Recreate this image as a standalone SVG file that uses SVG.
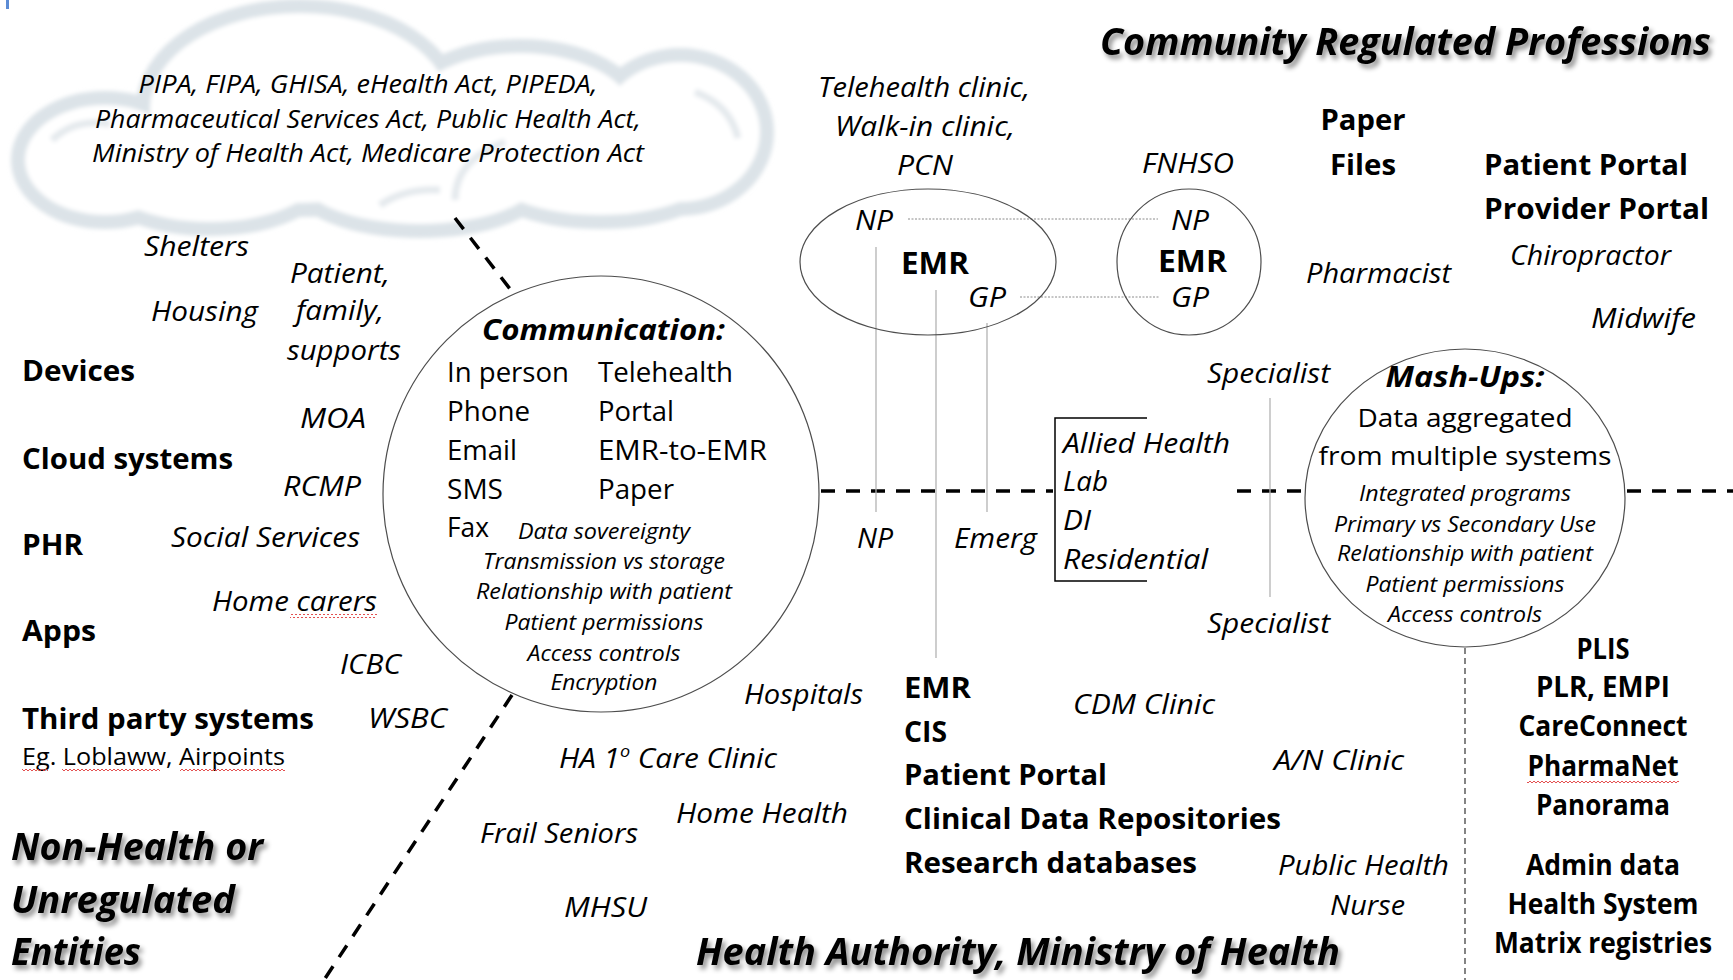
<svg xmlns="http://www.w3.org/2000/svg" width="1733" height="980" viewBox="0 0 1733 980">
<defs>
<style>
text{font-family:'Open Sans','Noto Sans','DejaVu Sans',sans-serif;fill:#000}
.i{font-style:italic}
.b{font-weight:700}
.m{text-anchor:middle}
.f20{font-size:20px}
.f21{font-size:21px}
.f24{font-size:24px}
.f25{font-size:25px}
.f27{font-size:27px}
.f28{font-size:28px}
.f29{font-size:29px}
.f31{font-size:31px}
.hd{font-size:38px;font-weight:700;font-style:italic}
.thin{stroke:#b3b3b3;stroke-width:1.3;fill:none}
.dot{stroke:#8c8c8c;stroke-width:1;stroke-dasharray:2 1.5;fill:none}
.bound{stroke:#000;stroke-width:3.5;stroke-dasharray:14 11;fill:none}
.fine{stroke:#333;stroke-width:1.2;stroke-dasharray:6 4;fill:none}
.outline{fill:none;stroke:#4d4d4d;stroke-width:1.2}
</style>
<filter id="shadow" x="-5%" y="-30%" width="115%" height="180%">
<feDropShadow dx="3" dy="4" stdDeviation="2.5" flood-color="#000" flood-opacity="0.45"/>
</filter>
<filter id="soft" x="-5%" y="-10%" width="110%" height="120%">
<feGaussianBlur stdDeviation="2"/>
</filter>
<pattern id="squiggle" width="4" height="4" patternUnits="userSpaceOnUse">
<path d="M0,3 L2,1 L4,3" fill="none" stroke="#e03c3c" stroke-width="0.9"/>
</pattern>
<g id="lobes">
<ellipse cx="105" cy="160" rx="80" ry="55"/>
<ellipse cx="300" cy="108" rx="150" ry="95"/>
<ellipse cx="520" cy="118" rx="115" ry="65"/>
<ellipse cx="680" cy="132" rx="80" ry="70"/>
<ellipse cx="210" cy="172" rx="110" ry="50"/>
<ellipse cx="420" cy="176" rx="120" ry="48"/>
<ellipse cx="600" cy="172" rx="110" ry="43"/>
</g>
</defs>

<rect width="1733" height="980" fill="#fff"/>
<rect x="6" y="0" width="3" height="9" fill="#5b8bd5"/>

<!-- legislation cloud -->
<g id="cloud">
<g filter="url(#soft)">
<use href="#lobes" fill="none" stroke="#dce3e8" stroke-width="28"/>
<use href="#lobes" fill="#fff" stroke="none"/>
<g fill="none" stroke="#e4e9ed" stroke-width="7">
<path d="M52,140 Q75,118 110,124"/>
<path d="M455,200 Q455,160 505,142"/>
<path d="M695,92 Q730,105 738,138"/>
<path d="M380,205 Q405,188 440,190"/>
</g>
</g>
<text class="i f25 m" x="368" y="93" textLength="459" lengthAdjust="spacingAndGlyphs">PIPA, FIPA, GHISA, eHealth Act, PIPEDA,</text>
<text class="i f25 m" x="368" y="128" textLength="546" lengthAdjust="spacingAndGlyphs">Pharmaceutical Services Act, Public Health Act,</text>
<text class="i f25 m" x="368" y="162" textLength="552" lengthAdjust="spacingAndGlyphs">Ministry of Health Act, Medicare Protection Act</text>
</g>

<!-- connectors and boundaries -->
<g id="connectors">
<line class="bound" x1="455" y1="218" x2="514" y2="294"/>
<line class="bound" x1="512" y1="695" x2="324" y2="980"/>
<line class="bound" x1="821" y1="491" x2="1053" y2="491"/>
<line class="bound" x1="1237" y1="491" x2="1304" y2="491"/>
<line class="bound" x1="1627" y1="491" x2="1733" y2="491"/>
<line class="fine" x1="1465" y1="648" x2="1465" y2="980"/>
<line class="thin" x1="876" y1="247" x2="876" y2="512"/>
<line class="thin" x1="936" y1="290" x2="936" y2="658"/>
<line class="thin" x1="987" y1="323" x2="987" y2="512"/>
<line class="thin" x1="1270" y1="398" x2="1270" y2="597"/>
<line class="dot" x1="908" y1="219" x2="1158" y2="219"/>
<line class="dot" x1="1020" y1="297" x2="1160" y2="297"/>
<path d="M1147,418 H1055 V581 H1147" fill="none" stroke="#000" stroke-width="1.5"/>
</g>

<!-- section headings -->
<g id="headings">
<text class="hd" x="1100" y="55" textLength="611" lengthAdjust="spacingAndGlyphs" filter="url(#shadow)">Community Regulated Professions</text>
<text class="hd" x="696" y="965" textLength="644" lengthAdjust="spacingAndGlyphs" filter="url(#shadow)">Health Authority, Ministry of Health</text>
<text class="hd" x="11" y="860" textLength="252" lengthAdjust="spacingAndGlyphs" filter="url(#shadow)">Non-Health or</text>
<text class="hd" x="11" y="913" textLength="224" lengthAdjust="spacingAndGlyphs" filter="url(#shadow)">Unregulated</text>
<text class="hd" x="11" y="965" textLength="130" lengthAdjust="spacingAndGlyphs" filter="url(#shadow)">Entities</text>
</g>

<!-- non-health / unregulated systems -->
<g id="systems-left">
<text class="b f29" x="22" y="381" textLength="113" lengthAdjust="spacingAndGlyphs">Devices</text>
<text class="b f29" x="22" y="469" textLength="211" lengthAdjust="spacingAndGlyphs">Cloud systems</text>
<text class="b f29" x="22" y="555" textLength="61" lengthAdjust="spacingAndGlyphs">PHR</text>
<text class="b f29" x="22" y="641" textLength="74" lengthAdjust="spacingAndGlyphs">Apps</text>
<text class="b f29" x="22" y="729" textLength="292" lengthAdjust="spacingAndGlyphs">Third party systems</text>
<text class="f24" x="22" y="765" textLength="263" lengthAdjust="spacingAndGlyphs">Eg. Loblaww, Airpoints</text>
<rect x="22" y="768" width="26" height="4" fill="url(#squiggle)"/>
<rect x="62" y="768" width="98" height="4" fill="url(#squiggle)"/>
<rect x="180" y="768" width="105" height="4" fill="url(#squiggle)"/>
</g>

<g id="actors-left">
<text class="i f27" x="144" y="256" textLength="105" lengthAdjust="spacingAndGlyphs">Shelters</text>
<text class="i f27" x="151" y="321" textLength="107" lengthAdjust="spacingAndGlyphs">Housing</text>
<text class="i f27" x="290" y="283" textLength="100" lengthAdjust="spacingAndGlyphs">Patient,</text>
<text class="i f27" x="296" y="320" textLength="88" lengthAdjust="spacingAndGlyphs">family,</text>
<text class="i f27" x="287" y="360" textLength="114" lengthAdjust="spacingAndGlyphs">supports</text>
<text class="i f27" x="300" y="428" textLength="66" lengthAdjust="spacingAndGlyphs">MOA</text>
<text class="i f27" x="283" y="496" textLength="78" lengthAdjust="spacingAndGlyphs">RCMP</text>
<text class="i f27" x="171" y="547" textLength="189" lengthAdjust="spacingAndGlyphs">Social Services</text>
<text class="i f27" x="212" y="611" textLength="165" lengthAdjust="spacingAndGlyphs">Home carers</text>
<rect x="290" y="614" width="87" height="4" fill="url(#squiggle)"/>
<text class="i f27" x="340" y="674" textLength="61" lengthAdjust="spacingAndGlyphs">ICBC</text>
<text class="i f28" x="368" y="728" textLength="79" lengthAdjust="spacingAndGlyphs">WSBC</text>
</g>

<!-- communication channels -->
<g id="communication">
<circle class="outline" cx="601" cy="494" r="218"/>
<text class="b i f29" x="482" y="340" textLength="243" lengthAdjust="spacingAndGlyphs">Communication:</text>
<text class="f27" x="447" y="382" textLength="122" lengthAdjust="spacingAndGlyphs">In person</text>
<text class="f27" x="598" y="382" textLength="135" lengthAdjust="spacingAndGlyphs">Telehealth</text>
<text class="f27" x="447" y="421" textLength="83" lengthAdjust="spacingAndGlyphs">Phone</text>
<text class="f27" x="598" y="421" textLength="76" lengthAdjust="spacingAndGlyphs">Portal</text>
<text class="f27" x="447" y="460" textLength="70" lengthAdjust="spacingAndGlyphs">Email</text>
<text class="f27" x="598" y="460" textLength="169" lengthAdjust="spacingAndGlyphs">EMR-to-EMR</text>
<text class="f27" x="447" y="499" textLength="56" lengthAdjust="spacingAndGlyphs">SMS</text>
<text class="f27" x="598" y="499" textLength="76" lengthAdjust="spacingAndGlyphs">Paper</text>
<text class="f27" x="447" y="537" textLength="42" lengthAdjust="spacingAndGlyphs">Fax</text>
<text class="i f21" x="518" y="539" textLength="172" lengthAdjust="spacingAndGlyphs">Data sovereignty</text>
<text class="i f21 m" x="604" y="569" textLength="242" lengthAdjust="spacingAndGlyphs">Transmission vs storage</text>
<text class="i f21 m" x="604" y="599" textLength="256" lengthAdjust="spacingAndGlyphs">Relationship with patient</text>
<text class="i f21 m" x="604" y="630" textLength="199" lengthAdjust="spacingAndGlyphs">Patient permissions</text>
<text class="i f21 m" x="604" y="661" textLength="153" lengthAdjust="spacingAndGlyphs">Access controls</text>
<text class="i f21 m" x="604" y="690" textLength="107" lengthAdjust="spacingAndGlyphs">Encryption</text>
</g>

<!-- primary care clinics -->
<g id="pcn">
<text class="i f27 m" x="924" y="97" textLength="212" lengthAdjust="spacingAndGlyphs">Telehealth clinic,</text>
<text class="i f27 m" x="925" y="136" textLength="180" lengthAdjust="spacingAndGlyphs">Walk-in clinic,</text>
<text class="i f27 m" x="925" y="175" textLength="56" lengthAdjust="spacingAndGlyphs">PCN</text>
<ellipse class="outline" cx="928" cy="262" rx="128" ry="73"/>
<text class="i f27" x="855" y="230" textLength="38" lengthAdjust="spacingAndGlyphs">NP</text>
<text class="b f31" x="901" y="274" textLength="68" lengthAdjust="spacingAndGlyphs">EMR</text>
<text class="i f27" x="968" y="307" textLength="38" lengthAdjust="spacingAndGlyphs">GP</text>
</g>

<g id="fnhso">
<text class="i f27 m" x="1188" y="173" textLength="92" lengthAdjust="spacingAndGlyphs">FNHSO</text>
<ellipse class="outline" cx="1189" cy="262" rx="72" ry="73"/>
<text class="i f27" x="1171" y="230" textLength="38" lengthAdjust="spacingAndGlyphs">NP</text>
<text class="b f31" x="1158" y="272" textLength="69" lengthAdjust="spacingAndGlyphs">EMR</text>
<text class="i f27" x="1171" y="307" textLength="38" lengthAdjust="spacingAndGlyphs">GP</text>
</g>

<g id="acute">
<text class="i f27" x="857" y="548" textLength="36" lengthAdjust="spacingAndGlyphs">NP</text>
<text class="i f27" x="954" y="548" textLength="83" lengthAdjust="spacingAndGlyphs">Emerg</text>
</g>

<g id="allied">
<text class="i f28" x="1063" y="453" textLength="167" lengthAdjust="spacingAndGlyphs">Allied Health</text>
<text class="i f28" x="1063" y="491" textLength="45" lengthAdjust="spacingAndGlyphs">Lab</text>
<text class="i f28" x="1063" y="530" textLength="28" lengthAdjust="spacingAndGlyphs">DI</text>
<text class="i f28" x="1063" y="569" textLength="145" lengthAdjust="spacingAndGlyphs">Residential</text>
</g>

<!-- community regulated professions -->
<g id="community">
<text class="b f29 m" x="1363" y="130" textLength="85" lengthAdjust="spacingAndGlyphs">Paper</text>
<text class="b f29 m" x="1363" y="175" textLength="66" lengthAdjust="spacingAndGlyphs">Files</text>
<text class="b f29" x="1484" y="175" textLength="204" lengthAdjust="spacingAndGlyphs">Patient Portal</text>
<text class="b f29" x="1484" y="219" textLength="225" lengthAdjust="spacingAndGlyphs">Provider Portal</text>
<text class="i f27" x="1306" y="283" textLength="145" lengthAdjust="spacingAndGlyphs">Pharmacist</text>
<text class="i f27" x="1510" y="265" textLength="161" lengthAdjust="spacingAndGlyphs">Chiropractor</text>
<text class="i f27" x="1591" y="328" textLength="105" lengthAdjust="spacingAndGlyphs">Midwife</text>
<text class="i f27" x="1207" y="383" textLength="123" lengthAdjust="spacingAndGlyphs">Specialist</text>
<text class="i f27" x="1207" y="633" textLength="123" lengthAdjust="spacingAndGlyphs">Specialist</text>
</g>

<!-- aggregated data -->
<g id="mashups">
<ellipse class="outline" cx="1465" cy="498" rx="160" ry="149"/>
<text class="b i f29 m" x="1465" y="387" textLength="159" lengthAdjust="spacingAndGlyphs">Mash-Ups:</text>
<text class="f25 m" x="1465" y="427" textLength="215" lengthAdjust="spacingAndGlyphs">Data aggregated</text>
<text class="f25 m" x="1465" y="465" textLength="293" lengthAdjust="spacingAndGlyphs">from multiple systems</text>
<text class="i f21 m" x="1465" y="501" textLength="212" lengthAdjust="spacingAndGlyphs">Integrated programs</text>
<text class="i f21 m" x="1465" y="532" textLength="262" lengthAdjust="spacingAndGlyphs">Primary vs Secondary Use</text>
<text class="i f21 m" x="1465" y="561" textLength="256" lengthAdjust="spacingAndGlyphs">Relationship with patient</text>
<text class="i f21 m" x="1465" y="592" textLength="199" lengthAdjust="spacingAndGlyphs">Patient permissions</text>
<text class="i f21 m" x="1465" y="622" textLength="154" lengthAdjust="spacingAndGlyphs">Access controls</text>
</g>

<!-- health authority programs -->
<g id="health-authority">
<text class="i f28" x="744" y="704" textLength="119" lengthAdjust="spacingAndGlyphs">Hospitals</text>
<text class="i f28" x="559" y="768" textLength="218" lengthAdjust="spacingAndGlyphs">HA 1<tspan font-size="17" dy="-11">o</tspan><tspan dy="11"> Care Clinic</tspan></text>
<text class="i f28" x="676" y="823" textLength="172" lengthAdjust="spacingAndGlyphs">Home Health</text>
<text class="i f28" x="480" y="843" textLength="158" lengthAdjust="spacingAndGlyphs">Frail Seniors</text>
<text class="i f28" x="564" y="917" textLength="83" lengthAdjust="spacingAndGlyphs">MHSU</text>
<text class="i f28" x="1073" y="714" textLength="142" lengthAdjust="spacingAndGlyphs">CDM Clinic</text>
<text class="i f28" x="1274" y="770" textLength="130" lengthAdjust="spacingAndGlyphs">A/N Clinic</text>
<text class="i f28" x="1278" y="875" textLength="171" lengthAdjust="spacingAndGlyphs">Public Health</text>
<text class="i f28" x="1330" y="915" textLength="75" lengthAdjust="spacingAndGlyphs">Nurse</text>
</g>

<g id="ha-systems">
<text class="b f29" x="904" y="698" textLength="67" lengthAdjust="spacingAndGlyphs">EMR</text>
<text class="b f29" x="904" y="742" textLength="43" lengthAdjust="spacingAndGlyphs">CIS</text>
<text class="b f29" x="904" y="785" textLength="203" lengthAdjust="spacingAndGlyphs">Patient Portal</text>
<text class="b f29" x="904" y="829" textLength="377" lengthAdjust="spacingAndGlyphs">Clinical Data Repositories</text>
<text class="b f29" x="904" y="873" textLength="293" lengthAdjust="spacingAndGlyphs">Research databases</text>
</g>

<!-- provincial registries -->
<g id="registries">
<text class="b f29 m" x="1603" y="659" textLength="53" lengthAdjust="spacingAndGlyphs">PLIS</text>
<text class="b f29 m" x="1603" y="697" textLength="134" lengthAdjust="spacingAndGlyphs">PLR, EMPI</text>
<text class="b f29 m" x="1603" y="736" textLength="169" lengthAdjust="spacingAndGlyphs">CareConnect</text>
<text class="b f29 m" x="1603" y="776" textLength="151" lengthAdjust="spacingAndGlyphs">PharmaNet</text>
<rect x="1527" y="779" width="152" height="4" fill="url(#squiggle)"/>
<text class="b f29 m" x="1603" y="815" textLength="134" lengthAdjust="spacingAndGlyphs">Panorama</text>
<text class="b f29 m" x="1603" y="875" textLength="154" lengthAdjust="spacingAndGlyphs">Admin data</text>
<text class="b f29 m" x="1603" y="914" textLength="191" lengthAdjust="spacingAndGlyphs">Health System</text>
<text class="b f29 m" x="1603" y="953" textLength="218" lengthAdjust="spacingAndGlyphs">Matrix registries</text>
</g>
</svg>
